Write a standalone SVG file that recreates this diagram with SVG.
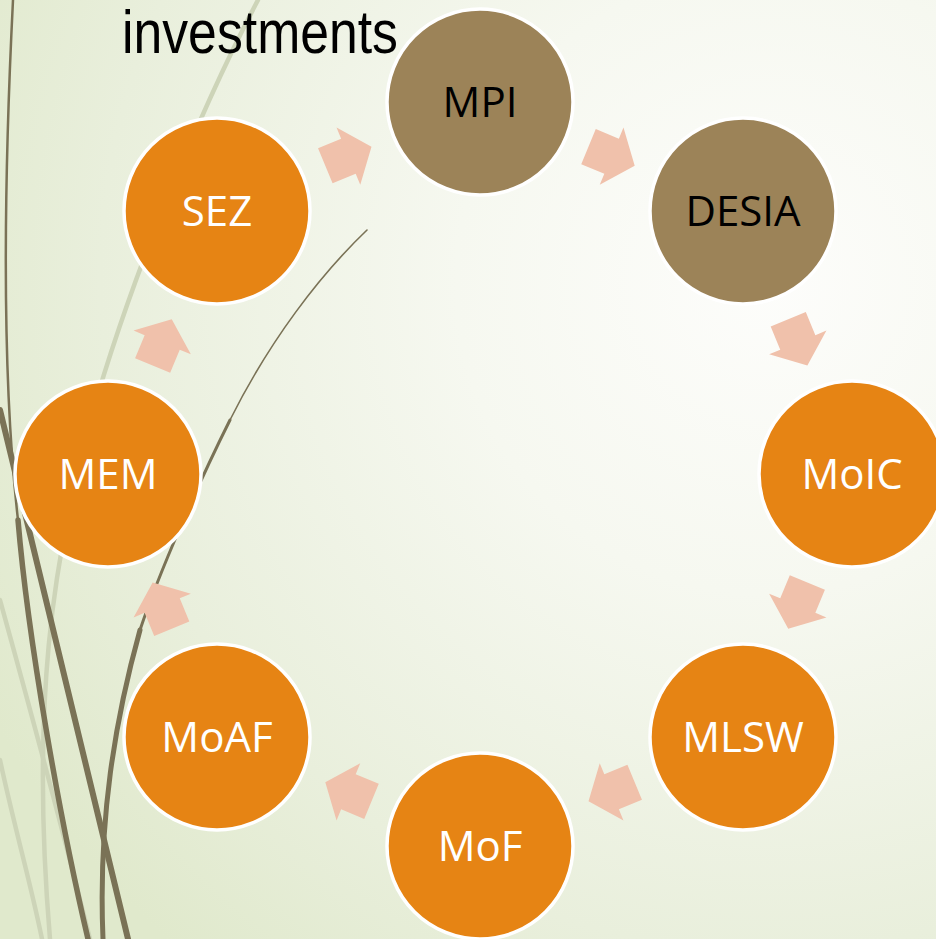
<svg xmlns="http://www.w3.org/2000/svg" width="936" height="939" viewBox="0 0 936 939">
<defs>
  <radialGradient id="bg" cx="0.82" cy="0.3" r="0.95">
    <stop offset="0" stop-color="#FDFDFB"/>
    <stop offset="0.35" stop-color="#F6F8F0"/>
    <stop offset="0.75" stop-color="#E9EFDC"/>
    <stop offset="1" stop-color="#E0E9CC"/>
  </radialGradient>
  <polygon id="arr" points="-25,-19 0,-19 0,-31 25,0 0,31 0,19 -25,19"/>
</defs>
<style>
  .dark { fill: none; stroke: #7A7256; stroke-linecap: round; }
  .light { fill: none; stroke: #CDD4B8; stroke-linecap: round; }
  .node circle { stroke: #FFFFFF; stroke-width: 3.5; }
  .orange circle { fill: #E68414; }
  .brown circle { fill: #9C8358; }
  .node text { font-family: "Open Sans", "Noto Sans", sans-serif; font-size: 42px; text-anchor: middle; }
  .orange text { fill: #FFFFFF; }
  .brown text { fill: #000000; }
  .arrow use { fill: #F0C1AB; }
</style>
<rect x="0" y="0" width="936" height="939" fill="url(#bg)"/>
<g id="background-lines">
  <path class="light" stroke-width="4.5" d="M258,0 C200,110 125,290 85,440 C55,560 30,700 50,939"/>
  <path class="light" stroke-width="4.5" d="M0,600 C25,690 55,800 90,939"/>
  <path class="light" stroke-width="4.5" d="M0,760 C15,830 30,880 42,939"/>
  <path class="dark" stroke-width="2.5" d="M13,0 C3,200 2,380 18,520"/>
  <path class="dark" stroke-width="5.5" d="M18,520 C28,640 60,820 88,939"/>
  <path class="dark" stroke-width="6" d="M0,410 C25,520 55,640 128,939"/>
  <path class="dark" stroke-width="1.6" d="M367,230 C320,275 270,340 230,420"/>
  <path class="dark" stroke-width="3" d="M230,420 C200,480 160,570 140,630"/>
  <path class="dark" stroke-width="5" d="M140,630 C115,720 98,820 103,939"/>
</g>
<g id="connectors" class="arrow">
  <use href="#arr" transform="translate(611.6,156.2) rotate(22.5)"/>
  <use href="#arr" transform="translate(797.8,342.4) rotate(67.5)"/>
  <use href="#arr" transform="translate(797.8,605.6) rotate(112.5)"/>
  <use href="#arr" transform="translate(611.6,791.8) rotate(157.5)"/>
  <use href="#arr" transform="translate(348.4,791.8) rotate(202.5)"/>
  <use href="#arr" transform="translate(162.2,605.6) rotate(247.5)"/>
  <use href="#arr" transform="translate(162.2,342.4) rotate(292.5)"/>
  <use href="#arr" transform="translate(348.4,156.2) rotate(337.5)"/>
</g>
<g id="MPI" class="node brown"><circle cx="480" cy="102" r="93"/><text x="480" y="117">MPI</text></g>
<g id="DESIA" class="node brown"><circle cx="743" cy="211" r="93"/><text x="743" y="226">DESIA</text></g>
<g id="MoIC" class="node orange"><circle cx="852" cy="474" r="93"/><text x="852" y="489">MoIC</text></g>
<g id="MLSW" class="node orange"><circle cx="743" cy="737" r="93"/><text x="743" y="752">MLSW</text></g>
<g id="MoF" class="node orange"><circle cx="480" cy="846" r="93"/><text x="480" y="861">MoF</text></g>
<g id="MoAF" class="node orange"><circle cx="217" cy="737" r="93"/><text x="217" y="752">MoAF</text></g>
<g id="MEM" class="node orange"><circle cx="108" cy="474" r="93"/><text x="108" y="489">MEM</text></g>
<g id="SEZ" class="node orange"><circle cx="217" cy="211" r="93"/><text x="217" y="226">SEZ</text></g>
<g id="title">
  <text x="122" y="53" font-family="Liberation Sans, Arial, sans-serif" font-size="62" fill="#000000" textLength="276" lengthAdjust="spacingAndGlyphs">investments</text>
</g>
</svg>
